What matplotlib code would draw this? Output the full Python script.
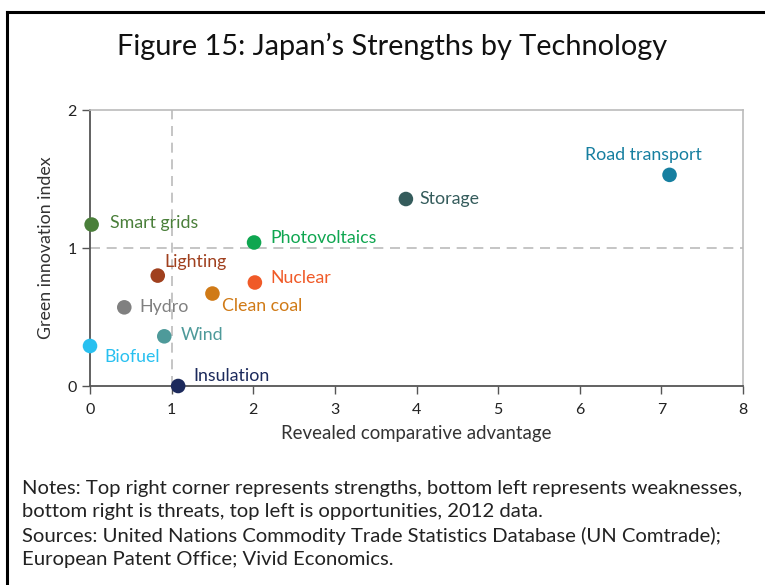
import matplotlib.pyplot as plt
from matplotlib.lines import Line2D

plt.rcParams['font.family'] = ['Lato', 'DejaVu Sans']

figsize = (7.65, 5.85)
dpi = 100

# Revealed comparative advantage (x) vs green innovation index (y)
techs = ['Road transport', 'Storage', 'Smart grids', 'Photovoltaics', 'Lighting',
         'Nuclear', 'Clean coal', 'Hydro', 'Wind', 'Biofuel', 'Insulation']
rca = [7.10, 3.87, 0.02, 2.01, 0.83, 2.02, 1.50, 0.42, 0.91, 0.0, 1.08]
gii = [1.53, 1.355, 1.17, 1.04, 0.80, 0.75, 0.67, 0.57, 0.36, 0.29, 0.0]
colors = ['#167fa0', '#355c5c', '#4a7f3a', '#0fa650', '#a0401e',
          '#f05a28', '#d07a16', '#808080', '#4e9a9a', '#28c0f0', '#1c2a5c']

# label offsets in points, and horizontal alignment
offsets = {
    'Road transport': (-19, 14, 'center'),
    'Storage': (10, 0, 'left'),
    'Smart grids': (13, 1, 'left'),
    'Photovoltaics': (12, 3, 'left'),
    'Lighting': (5, 10, 'left'),
    'Nuclear': (11, 3, 'left'),
    'Clean coal': (7, -9, 'left'),
    'Hydro': (11, 0, 'left'),
    'Wind': (12, 1, 'left'),
    'Biofuel': (10, -8, 'left'),
    'Insulation': (11, 7, 'left'),
}

fig = plt.figure(figsize=figsize, dpi=dpi)
ax = fig.add_axes([90 / 765, 1 - 386 / 585, 653 / 765, 276 / 585])

ax.axvline(1, color='#bbbbbb', lw=1.2, ls=(0, (6, 4)), zorder=1)
ax.axhline(1, color='#bbbbbb', lw=1.2, ls=(0, (6, 4)), zorder=1)

ax.scatter(rca, gii, s=110, c=colors, zorder=3, clip_on=False, linewidths=0)
for name, x, y, c in zip(techs, rca, gii, colors):
    dx, dy, ha = offsets[name]
    ax.annotate(name, (x, y), xytext=(dx, dy), textcoords='offset points',
                ha=ha, va='center', color=c, fontsize=12.8)

ax.set_xlim(0, 8)
ax.set_ylim(0, 2)
ax.set_xticks(range(9))
ax.set_yticks([0, 1, 2])
ax.tick_params(colors='#555555', labelcolor='#222222', labelsize=11.5, length=6, width=1)
ax.tick_params(axis='x', pad=6)
for side in ['left', 'bottom']:
    ax.spines[side].set_color('#555555')
    ax.spines[side].set_linewidth(1.3)
for side in ['top', 'right']:
    ax.spines[side].set_color('#bbbbbb')
    ax.spines[side].set_linewidth(1.2)

ax.set_xlabel('Revealed comparative advantage', fontsize=13.4, color='#333333', labelpad=6)
ax.set_ylabel('Green innovation index', fontsize=12.8, color='#333333', labelpad=10)

fig.text(392 / 765, 1 - 46 / 585, 'Figure 15: Japan\u2019s Strengths by Technology',
         ha='center', va='center', fontsize=20.8, color='#111111')

notes = ('Notes: Top right corner represents strengths, bottom left represents weaknesses,\n'
         'bottom right is threats, top left is opportunities, 2012 data.\n'
         'Sources: United Nations Commodity Trade Statistics Database (UN Comtrade);\n'
         'European Patent Office; Vivid Economics.')
fig.text(22 / 765, 1 - 480 / 585, notes, ha='left', va='top', fontsize=14.6,
         color='#222222', linespacing=1.44)

# frame lines (top and left) around the figure
fig.add_artist(Line2D([7 / 765, 1], [1 - 12 / 585, 1 - 12 / 585], color='black', lw=2.2,
                      transform=fig.transFigure))
fig.add_artist(Line2D([7 / 765, 7 / 765], [0, 1 - 12 / 585], color='black', lw=2.2,
                      transform=fig.transFigure))

plt.savefig('out.png', dpi=dpi)
